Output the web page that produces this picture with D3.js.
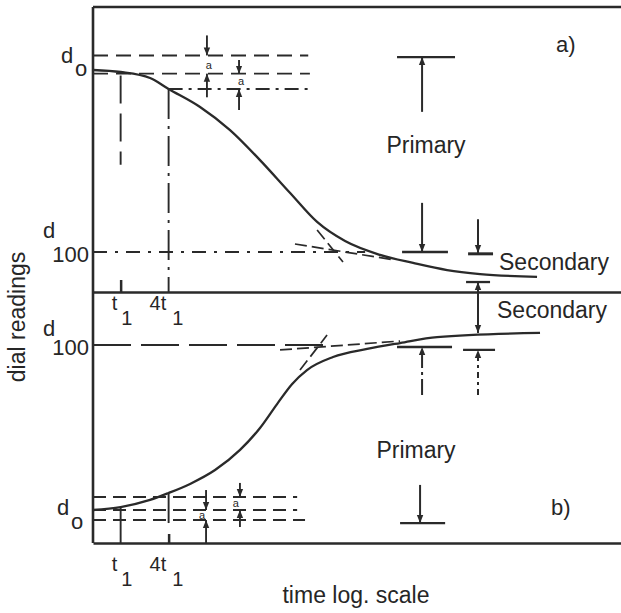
<!DOCTYPE html>
<html>
<head>
<meta charset="utf-8">
<script src="https://cdn.jsdelivr.net/npm/d3@7"></script>
<style>
  body { margin: 0; background: #fff; }
  text { font-family: "Liberation Sans", Arial, Helvetica, sans-serif; fill: #262626; }
</style>
</head>
<body>
<svg width="621" height="613"></svg>
<script>
// time in units of t1 (log scale), readings in % of primary consolidation (d0 = 0, d100 = 100)
var curveA = [[0.45, 0], [1, 1.1], [2.34, 4.4], [4, 10.4], [9.92, 20.3], [23.6, 33], [56.1, 49.5], [134, 67.6],
  [292, 83.5], [655, 94], [1800, 101.6], [4680, 106], [12500, 109.9], [32400, 112.1], [168000, 113.7]];
var curveB = [[0.45, 0], [1, 1.8], [2.34, 6.1], [4, 10.3], [7.43, 15.8], [15.3, 24.2], [31.5, 36.4], [56.1, 49.7],
  [91.8, 64.2], [142, 76.4], [218, 84.8], [463, 92.7], [1240, 97.6], [3210, 101.2], [9350, 104.8], [183000, 107.3]];

// construction lines: [reading, from time, to time]
var guidesA = [[-8, 0.45, 226], [2, 0.45, 237], [10.4, 4, 261]];
var guidesB = [[7.9, 0.45, 164], [0, 0.45, 164], [-6.1, 0.45, 206]];
var d100A = [0.45, 1170];
var d100B = [0.45, 427];

// tangents: [[t, u], [t, u]]
var tangentsA = [[[292, 87.9], [617, 105.5]], [[154, 95.6], [2770, 104.4]]];
var tangentsB = [[[178, 84.8], [389, 106]], [[100, 97], [3210, 102.4]]];

// "a" offsets: time, start above, line hit from above, line hit from below, start below
var gapsA = [[12.1, -19, -8, 2, 15], [30.6, -5.5, 2, 10.4, 22]];
var gapsB = [[11.8, 12.1, 0, -6.1, -20], [31.4, 16.4, 7.9, 0, -10.3]];

var tickTimes = [1, 4];
var tickNames = ["t", "4t"];

var ink = "#2a2a2a";
var svg = d3.select("svg");

var x = d3.scaleLog().domain([0.45, 1.9e6]).range([93, 621]);
var yA = d3.scaleLinear().domain([0, 100]).range([70, 252]);
var yB = d3.scaleLinear().domain([0, 100]).range([510, 345]);

svg.append("defs").append("marker")
    .attr("id", "head").attr("viewBox", "0 0 10 10")
    .attr("refX", 10).attr("refY", 5)
    .attr("markerWidth", 8).attr("markerHeight", 8)
    .attr("markerUnits", "userSpaceOnUse").attr("orient", "auto")
  .append("path").attr("d", "M0,1L10,5L0,9z").attr("fill", ink);

function seg(x1, y1, x2, y2, dash, w) {
  return svg.append("line")
    .attr("x1", x1).attr("y1", y1).attr("x2", x2).attr("y2", y2)
    .attr("stroke", ink).attr("stroke-width", w || 1.9)
    .attr("stroke-dasharray", dash || null);
}

// frame
seg(93, 7, 621, 7, null, 2.6);
seg(93, 7, 93, 543, null, 2.6);

svg.append("g").attr("transform", "translate(0,292)")
  .call(d3.axisTop(x).tickValues([1]).tickSize(12).tickSizeOuter(0).tickFormat(""));
svg.append("g").attr("transform", "translate(0,543)")
  .call(d3.axisTop(x).tickValues([4]).tickSize(9).tickSizeOuter(0).tickFormat(""));
svg.selectAll(".domain, .tick line").attr("stroke", ink).attr("stroke-width", 2.5);

// tick labels
[310, 571].forEach(function(base) {
  tickTimes.forEach(function(t, i) {
    var tx = svg.append("text").attr("x", x(t) - (i ? 19 : 9)).attr("y", base)
      .attr("font-size", 20).text(tickNames[i]);
    tx.append("tspan").attr("dx", i ? 6 : 4).attr("dy", 15).text("1");
  });
});

// curves
var lineA = d3.line().x(function(d) { return x(d[0]); }).y(function(d) { return yA(d[1]); }).curve(d3.curveMonotoneX);
var lineB = d3.line().x(function(d) { return x(d[0]); }).y(function(d) { return yB(d[1]); }).curve(d3.curveMonotoneX);
svg.append("path").datum(curveA).attr("d", lineA).attr("fill", "none").attr("stroke", ink).attr("stroke-width", 2.3);
svg.append("path").datum(curveB).attr("d", lineB).attr("fill", "none").attr("stroke", ink).attr("stroke-width", 2.3);

// construction lines
guidesA.forEach(function(g, i) {
  seg(x(g[1]), yA(g[0]), x(g[2]), yA(g[0]), i == 2 ? "14,6,3,6" : "15,8");
});
guidesB.forEach(function(g) {
  seg(x(g[1]), yB(g[0]), x(g[2]), yB(g[0]), "13,7");
});
seg(x(d100A[0]), yA(100), x(d100A[1]), yA(100), "14,8,3,8");
seg(x(d100B[0]), yB(100), x(d100B[1]), yB(100), "38,10");

tangentsA.forEach(function(t) {
  seg(x(t[0][0]), yA(t[0][1]), x(t[1][0]), yA(t[1][1]), "12,5", 1.7);
});
tangentsB.forEach(function(t) {
  seg(x(t[0][0]), yB(t[0][1]), x(t[1][0]), yB(t[1][1]), "12,5", 1.7);
});

// t1 and 4t1 verticals
seg(x(1), yA(3), x(1), yA(52), "28,10");
seg(x(4), yA(10.4), x(4), 292, "30,7,3,7");
seg(x(1), yB(1.8), x(1), 543, null);
seg(x(4), yB(10.3), x(4), yB(-7.9), null);

// "a" dimensions
function gaps(list, y, dxLabel) {
  list.forEach(function(g) {
    seg(x(g[0]), y(g[1]), x(g[0]), y(g[2]), null, 1.9).attr("marker-end", "url(#head)");
    seg(x(g[0]), y(g[4]), x(g[0]), y(g[3]), null, 1.9).attr("marker-end", "url(#head)");
    svg.append("text").attr("x", x(g[0]) + dxLabel).attr("y", (y(g[2]) + y(g[3])) / 2 + 4)
      .attr("font-size", 11).attr("text-anchor", "middle").text("a");
  });
}
gaps(gapsA, yA, 2);
gaps(gapsB, yB, -4);

// primary / secondary markers, panel a
seg(x(2940), yA(-7.1), x(15700), yA(-7.1), null, 2.3);
seg(x(6060), yA(23), x(6060), yA(-7.1), null, 2).attr("marker-end", "url(#head)");
seg(x(6060), yA(73), x(6060), yA(100), null, 2).attr("marker-end", "url(#head)");
seg(x(3400), yA(100), x(12800), yA(100), null, 2.3);
seg(x(30500), yA(82), x(30500), yA(100.5), null, 2).attr("marker-end", "url(#head)");
seg(x(22900), yA(101), x(47100), yA(101), null, 3);
seg(x(21600), yA(116.5), x(43200), yA(116.5), null, 2.3);
seg(x(30500), 300, x(30500), yA(116.5), null, 2).attr("marker-end", "url(#head)");
seg(x(30500), 300, x(30500), yB(107.3), null, 2).attr("marker-end", "url(#head)");

// primary markers, panel b
seg(x(2940), yB(98.8), x(14400), yB(98.8), null, 2.3);
seg(x(6060), yB(69.7), x(6060), yB(98.8), "16,4,3,4", 2).attr("marker-end", "url(#head)");
seg(x(19800), yB(97), x(49900), yB(97), null, 2.3);
seg(x(30500), yB(69.7), x(30500), yB(97), "6,4,3,4", 2).attr("marker-end", "url(#head)");
seg(x(5720), yB(15.2), x(5720), yB(-7.9), null, 2).attr("marker-end", "url(#head)");
seg(x(3210), yB(-7.9), x(11800), yB(-7.9), null, 2.3);

// labels
function label(tx, ty, s, size, anchor) {
  return svg.append("text").attr("x", tx).attr("y", ty).attr("font-size", size)
    .attr("text-anchor", anchor || "start").text(s);
}
label(61, yA(0) - 7, "d", 22);
label(75, yA(0) + 6, "o", 22);
label(57, yB(-6.1) - 5, "d", 22);
label(71, yB(-6.1) + 9, "o", 22);
label(43, yA(100) - 14, "d", 22);
label(89, yA(100) + 10, "100", 22, "end");
label(43, yB(100) - 9, "d", 22);
label(89, yB(100) + 10, "100", 22, "end");

label(426, 153, "Primary", 23, "middle");
label(416, 458, "Primary", 23, "middle");
label(499, 270, "Secondary", 23);
label(497, 318, "Secondary", 23);
label(556, 52, "a)", 22);
label(551, 515, "b)", 22);

label(356, 603, "time log. scale", 23, "middle");
svg.append("text").attr("transform", "translate(25,317) rotate(-90)")
  .attr("font-size", 23).attr("text-anchor", "middle")
  .text("dial readings");
</script>
</body>
</html>
